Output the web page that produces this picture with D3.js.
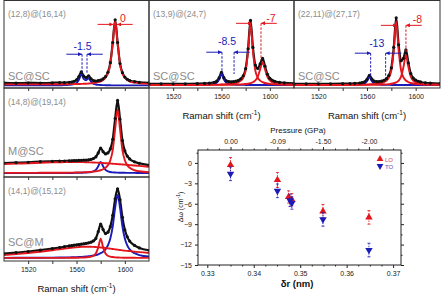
<!DOCTYPE html>
<html>
<head>
<meta charset="utf-8">
<script src="https://cdn.jsdelivr.net/npm/d3@7"></script>
<style>
  body { margin: 0; background: #fff; }
  svg { display: block; font-family: "Liberation Sans", Arial, sans-serif; }
</style>
</head>
<body>
<div id="container"></div>
<script>
// Raman shift grid (cm-1), shared by every spectrum below
const shift = [1500,1510,1520,1530,1540,1546,1550,1554,1556,1558,1560,1562,1564,1566,1568,1570,1572,1574,
               1576,1578,1580,1582,1584,1586,1588,1590,1592,1594,1596,1598,1600,1602,1604,1608,1612,1620];

// intensities in % of panel height
// (12,8)@(16,14)  SC@SC
const dataA = [5.8,5.5,5.9,5.7,5.9,6.2,6.1,6.5,6.8,7.6,9.2,13,18.5,13.5,12,14,10.5,8.5,8,8.5,9,10.5,13,18,29,52,78,52,28,17.5,12.5,10,8.5,7.2,6.5,6];
const redA  = [4.1,4.1,4.1,4.1,4.2,4.3,4.3,4.4,4.4,4.5,4.5,4.6,4.7,4.8,4.9,5.1,5.3,5.6,6.1,6.7,7.6,9.1,11.7,16.7,27.4,51.7,77,51.7,27.4,16.7,11.7,9.1,7.6,6.1,5.3,4.7];
const blueA = [3,3,3,3,3.1,3.2,3.3,3.6,3.8,4.4,5.7,9.4,15.7,10.4,8.9,11.2,7.2,4.9,4,3.6,3.4,3.3,3.2,3.1,3.1,3,3,3,3,3,3,3,3,3,3,3];

// (14,8)@(19,14)  M@SC
const dataB = [15.6,16.1,16.6,17.2,17.6,17.9,18,18.2,18.2,18.4,18.5,18.6,18.7,18.9,19,19.3,19.8,20.8,22.6,27,32.5,28.5,25.9,27,31.5,42.3,65.7,86,65.1,41,29.4,23.5,20.3,17.1,15.4,13.4];
const redB  = [4.6,4.6,4.6,4.7,4.7,4.8,4.8,4.9,4.9,5,5.05,5.1,5.2,5.3,5.4,5.6,5.8,6.1,6.4,6.9,7.6,8.7,10.4,13.3,18.8,30.2,54,76,54,30.2,18.8,13.3,10.4,7.6,6.4,5.4];
const broadB = [14.5,15,15.5,16,16.4,16.6,16.7,16.8,16.8,16.8,16.8,16.8,16.7,16.7,16.6,16.5,16.4,16.3,16.2,16,15.9,15.7,15.5,15.3,15.1,14.9,14.7,14.5,14.3,14.1,13.9,13.6,13.4,13,12.5,11.5];
const blueB = [4.5,4.5,4.5,4.5,4.5,4.5,4.5,4.5,4.5,4.6,4.7,4.7,4.8,4.9,5,5.2,5.6,6.35,8,12.1,17,12.1,8,6.35,5.6,5.2,5,4.9,4.8,4.7,4.7,4.6,4.6,4.6,4.5,4.5];

// (14,1)@(15,12)  SC@M
const dataC = [8.7,10,11.3,12.9,14.8,16.1,17,18,18.3,18.8,19.2,19.6,20,20.5,21,21.6,22.4,23.9,26.9,34.9,44,37.4,32.6,34.3,40.9,54.4,74,86,73,52,37.2,28.8,23.7,18.5,15.6,12.8];
const redC  = [3.7,3.7,3.7,3.7,3.7,3.7,3.7,3.8,3.8,3.85,3.9,3.95,4,4.2,4.35,4.7,5.2,6.3,8.9,16.2,26.6,16.2,8.9,6.3,5.2,4.7,4.35,4.2,4,3.95,3.9,3.85,3.8,3.8,3.7,3.7];
const broadC = [7,8.2,9.5,11,12.8,14,14.8,15.5,15.8,16.1,16.4,16.6,16.8,16.9,17,17,16.9,16.8,16.6,16.4,16.1,15.8,15.5,15.1,14.7,14.3,13.9,13.5,13.1,12.7,12.3,12,11.7,11.1,10.5,9.5];
const blueC = [3.7,3.8,3.8,3.9,4,4.1,4.2,4.35,4.4,4.5,4.6,4.75,4.9,5.1,5.3,5.6,6,6.5,7.1,8,9.3,11.1,13.9,18.6,26.7,41.1,63.6,78.6,63.6,41.1,26.7,18.6,13.9,9.3,7.1,5.3];

// (13,9)@(24,7)  SC@SC
const dataD = [4.65,4.75,4.75,4.8,5,5.2,5.55,6.4,7.75,11.55,17.95,11.8,8.25,7.2,7,7.2,7.75,8.7,10.5,14,22.25,44.8,77.25,46.4,26.2,22.35,27.6,33.85,24.9,15.7,11.1,8.85,7.6,6.35,5.75,5.25];
const redD1 = [3.45,3.5,3.5,3.5,3.6,3.65,3.7,3.8,3.85,3.9,4,4.1,4.25,4.45,4.7,5.1,5.7,6.65,8.4,11.75,19.8,42,73.9,42,19.8,11.75,8.4,6.65,5.7,5.1,4.7,4.45,4.25,4,3.85,3.7];
const redD2 = [3.4,3.45,3.45,3.5,3.5,3.5,3.55,3.55,3.6,3.6,3.65,3.65,3.7,3.7,3.75,3.8,3.9,4,4.1,4.3,4.55,4.9,5.55,6.6,8.6,12.8,21.4,29.4,21.4,12.8,8.6,6.6,5.55,4.55,4.1,3.75];
const blueD = [3.4,3.4,3.4,3.4,3.5,3.65,3.9,4.65,5.9,9.65,15.9,9.65,5.9,4.65,4.15,3.9,3.75,3.65,3.6,3.55,3.5,3.45,3.4,3.4,3.4,3.4,3.4,3.4,3.4,3.4,3.4,3.4,3.4,3.4,3.4,3.4];

// (22,11)@(27,17)  SC@SC
const dataE = [4.65,4.75,4.75,4.75,4.9,5.1,5.3,5.7,6.15,7.1,9.9,14.55,10.25,7.8,7.2,7.35,7.8,8.85,10.7,14.4,23,46.5,80.2,49.4,31.05,33.9,43.7,28.65,16.5,11.35,8.95,7.7,6.9,6,5.55,5.15];
const redE1 = [3.45,3.5,3.5,3.5,3.6,3.65,3.7,3.8,3.85,3.9,4,4.1,4.3,4.5,4.75,5.15,5.75,6.75,8.5,12,20.3,43.2,76,43.2,20.3,12,8.5,6.75,5.75,5.15,4.75,4.5,4.3,4,3.85,3.7];
const redE2 = [3.4,3.45,3.45,3.45,3.5,3.5,3.55,3.55,3.6,3.6,3.6,3.65,3.65,3.7,3.75,3.85,3.9,4.05,4.2,4.45,4.8,5.4,6.4,8.4,12.95,24.1,37.4,24.1,12.95,8.4,6.4,5.4,4.8,4.2,3.9,3.65];
const blueE = [3.4,3.4,3.4,3.4,3.4,3.55,3.65,3.95,4.3,5.2,7.9,12.4,7.9,5.2,4.3,3.95,3.75,3.65,3.6,3.55,3.5,3.5,3.4,3.4,3.4,3.4,3.4,3.4,3.4,3.4,3.4,3.4,3.4,3.4,3.4,3.4];

// shift markers: [component, peak, reference, arrow level, peak line end, ref line end, label x, label level, label]
const marksA = [["red", 1590.5, 1593.5, 72.7, 72.7, 72.7, 1598.5, 76, "0"],
                ["blue", 1564.6, 1568.7, 38.6, 17, 17, 1565, 43, "-1.5"]];
const marksD = [["red", 1585, 1592.7, 73.9, 73.9, 31.8, 1601, 76, "-7"],
                ["blue", 1560.4, 1570.4, 40.9, 16, 16, 1564.6, 49, "-8.5"]];
const marksE = [["red", 1584.4, 1592, 71.6, 71.6, 40, 1601.4, 74.5, "-8"],
                ["blue", 1563, 1575.3, 39.8, 12.5, 12.5, 1568, 47, "-13"]];

// phonon shift vs. inter-wall distance
const deltaRLO = [0.335, 0.3451, 0.3475, 0.3482, 0.3549, 0.3648];
const shiftLO  = [-0.3, -2.5, -5.0, -5.4, -7.1, -8.0];
const errLO    = [1.1, 1.1, 0.9, 0.9, 1.0, 1.0];
const deltaRTO = [0.335, 0.3451, 0.3478, 0.3482, 0.3549, 0.3648];
const shiftTO  = [-1.6, -4.1, -5.5, -5.9, -8.3, -12.8];
const errTO    = [1.0, 1.0, 0.9, 0.9, 1.0, 1.0];
const pressureAt = [0.335, 0.3451, 0.3549, 0.3648];
const pressureLabels = ["0.00", "-0.09", "-1.50", "-2.00"];

const W = 445, H = 298;
const color = {red: "#e3161d", blue: "#1b1bb8"};
const GREY = "#8c8c8c";

const svg = d3.select("#container").append("svg").attr("width", W).attr("height", H);
svg.append("rect").attr("width", W).attr("height", H).attr("fill", "#fff");
const defs = svg.append("defs");
for (const c of ["red", "blue"]) {
    defs.append("marker").attr("id", "arrow-" + c)
        .attr("viewBox", "0 0 6 6").attr("refX", 6).attr("refY", 3)
        .attr("markerWidth", 4).attr("markerHeight", 4).attr("orient", "auto")
        .append("path").attr("d", "M0,0L6,3L0,6Z").attr("fill", color[c]);
}

function drawSpectrum(id, box, spec) {
    const x = d3.scaleLinear().domain([1500, 1620]).range([box.x0, box.x1]);
    const y = d3.scaleLinear().domain([0, 100]).range([box.y1, box.y0]);
    defs.append("clipPath").attr("id", "clip" + id).append("rect")
        .attr("x", box.x0).attr("y", box.y0)
        .attr("width", box.x1 - box.x0).attr("height", box.y1 - box.y0);
    const g = svg.append("g").attr("clip-path", `url(#clip${id})`);
    const line = d3.line().x((d, i) => x(shift[i])).y(d => y(d)).curve(d3.curveMonotoneX);

    g.append("path").datum(spec.data).attr("d", line)
        .attr("fill", "none").attr("stroke", "#111").attr("stroke-width", 2.2);
    for (const s of spec.blue) {
        g.append("path").datum(s).attr("d", line)
            .attr("fill", "none").attr("stroke", color.blue).attr("stroke-width", 1.9);
    }
    for (const s of spec.red) {
        g.append("path").datum(s).attr("d", line)
            .attr("fill", "none").attr("stroke", color.red).attr("stroke-width", 1.9);
    }
    g.selectAll("circle").data(spec.data).join("circle")
        .attr("cx", (d, i) => x(shift[i])).attr("cy", d => y(d))
        .attr("r", 1.6).attr("fill", "#111");

    // shift annotations
    for (const m of spec.marks || []) {
        const [comp, peak, ref, level, peakEnd, refEnd, lx, ly, label] = m;
        const c = color[comp];
        g.append("line").attr("x1", x(peak)).attr("x2", x(peak)).attr("y1", y(level)).attr("y2", y(peakEnd))
            .attr("stroke", c).attr("stroke-width", 1).attr("stroke-dasharray", "2.5,1.5");
        g.append("line").attr("x1", x(ref)).attr("x2", x(ref)).attr("y1", y(level)).attr("y2", y(refEnd))
            .attr("stroke", c).attr("stroke-width", 1).attr("stroke-dasharray", "2.5,1.5");
        g.append("line").attr("x1", x(peak - 13)).attr("x2", x(peak)).attr("y1", y(level)).attr("y2", y(level))
            .attr("stroke", c).attr("stroke-width", 1).attr("marker-end", `url(#arrow-${comp})`);
        g.append("line").attr("x1", x(ref + 13)).attr("x2", x(ref)).attr("y1", y(level)).attr("y2", y(level))
            .attr("stroke", c).attr("stroke-width", 1).attr("marker-end", `url(#arrow-${comp})`);
        g.append("text").attr("x", x(lx)).attr("y", y(ly)).attr("text-anchor", "middle")
            .attr("font-size", 10.5).attr("fill", c).text(label);
    }

    // labels
    svg.append("text").attr("x", box.x0 + 4).attr("y", box.y0 + 16.5)
        .attr("font-size", 8.5).attr("fill", GREY).text(spec.name);
    svg.append("text").attr("x", box.x0 + 4).attr("y", spec.kindY)
        .attr("font-size", 11).attr("fill", GREY).text(spec.kind);

    // frame and axis
    svg.append("rect").attr("x", box.x0).attr("y", box.y0)
        .attr("width", box.x1 - box.x0).attr("height", box.y1 - box.y0)
        .attr("fill", "none").attr("stroke", "#333").attr("stroke-width", 1);
    const ax = svg.append("g").attr("transform", `translate(0,${box.y1})`)
        .call(d3.axisBottom(x).tickValues([1520, 1540, 1560, 1580, 1600]).tickSize(3).tickPadding(3)
            .tickFormat(d => spec.labels && d % 40 === 0 ? d : ""));
    ax.select(".domain").remove();
    ax.selectAll("line").attr("stroke", "#333");
    ax.selectAll("text").attr("font-size", 7).attr("fill", "#222")
        .attr("font-family", "Liberation Sans, Arial, sans-serif");
    if (spec.labels) {
        const t = svg.append("text").attr("x", (box.x0 + box.x1) / 2).attr("y", box.y1 + 31)
            .attr("text-anchor", "middle").attr("font-size", 9.5).attr("fill", "#111");
        t.append("tspan").text("Raman shift (cm");
        t.append("tspan").attr("font-size", 6.5).attr("dy", -4).text("-1");
        t.append("tspan").attr("dy", 4).text(")");
    }
}

drawSpectrum("A", {x0: 4, x1: 149, y0: 0.5, y1: 88},
    {data: dataA, red: [redA], blue: [blueA], marks: marksA, name: "(12,8)@(16,14)", kind: "SC@SC", kindY: 80});
drawSpectrum("B", {x0: 4, x1: 149, y0: 88, y1: 177},
    {data: dataB, red: [broadB, redB], blue: [blueB], name: "(14,8)@(19,14)", kind: "M@SC", kindY: 155});
drawSpectrum("C", {x0: 4, x1: 149, y0: 177, y1: 261},
    {data: dataC, red: [broadC, redC], blue: [blueC], name: "(14,1)@(15,12)", kind: "SC@M", kindY: 246, labels: true});
drawSpectrum("D", {x0: 149, x1: 294, y0: 0.5, y1: 88},
    {data: dataD, red: [redD1, redD2], blue: [blueD], marks: marksD, name: "(13,9)@(24,7)", kind: "SC@SC", kindY: 80, labels: true});
drawSpectrum("E", {x0: 294, x1: 440, y0: 0.5, y1: 88},
    {data: dataE, red: [redE1, redE2], blue: [blueE], marks: marksE, name: "(22,11)@(27,17)", kind: "SC@SC", kindY: 80, labels: true});

// ---- scatter: frequency shift vs delta r ----
const sx = d3.scaleLinear().domain([0.328, 0.3717]).range([198, 401]);
const sy = d3.scaleLinear().domain([-15, 1.9]).range([265, 150]);
const sg = svg.append("g");

function styleAxis(a) {
    a.select(".domain").remove();
    a.selectAll("line").attr("stroke", "#222");
    a.selectAll("text").attr("font-size", 7).attr("fill", "#222")
        .attr("font-family", "Liberation Sans, Arial, sans-serif");
}
styleAxis(sg.append("g").attr("transform", "translate(0,265)")
    .call(d3.axisBottom(sx).tickValues([0.33, 0.34, 0.35, 0.36, 0.37]).tickSize(3).tickPadding(3).tickFormat(d3.format(".2f"))));
styleAxis(sg.append("g").attr("transform", "translate(0,265)")
    .call(d3.axisBottom(sx).tickValues([0.3325, 0.335, 0.3375, 0.3425, 0.345, 0.3475, 0.3525, 0.355, 0.3575, 0.3625, 0.365, 0.3675]).tickSize(1.5).tickFormat("")));
styleAxis(sg.append("g").attr("transform", "translate(0,150)")
    .call(d3.axisTop(sx).tickValues(pressureAt).tickSize(3).tickPadding(3).tickFormat((d, i) => pressureLabels[i])));
styleAxis(sg.append("g").attr("transform", "translate(0,150)")
    .call(d3.axisTop(sx).tickValues([0.33, 0.34, 0.35, 0.36, 0.37, 0.3325, 0.3375, 0.3425, 0.3475, 0.3525, 0.3575, 0.3625, 0.3675]).tickSize(1.5).tickFormat("")));
styleAxis(sg.append("g").attr("transform", "translate(198,0)")
    .call(d3.axisLeft(sy).tickValues([0, -3, -6, -9, -12, -15]).tickSize(3).tickPadding(3)));
styleAxis(sg.append("g").attr("transform", "translate(198,0)")
    .call(d3.axisLeft(sy).tickValues([1.5, -1.5, -4.5, -7.5, -10.5, -13.5]).tickSize(1.5).tickFormat("")));
styleAxis(sg.append("g").attr("transform", "translate(401,0)")
    .call(d3.axisRight(sy).tickValues([0, -3, -6, -9, -12, -15]).tickSize(3).tickFormat("")));
styleAxis(sg.append("g").attr("transform", "translate(401,0)")
    .call(d3.axisRight(sy).tickValues([1.5, -1.5, -4.5, -7.5, -10.5, -13.5]).tickSize(1.5).tickFormat("")));
sg.append("rect").attr("x", 198).attr("y", 150).attr("width", 203).attr("height", 115)
    .attr("fill", "none").attr("stroke", "#222").attr("stroke-width", 1);

function drawSeries(rs, vs, es, c, rot) {
    const g = sg.append("g");
    rs.forEach((r, i) => {
        const cx = sx(r);
        g.append("line").attr("x1", cx).attr("x2", cx).attr("y1", sy(vs[i] + es[i])).attr("y2", sy(vs[i] - es[i]))
            .attr("stroke", c).attr("stroke-width", 0.8).attr("stroke-dasharray", "1.5,1");
        for (const e of [es[i], -es[i]]) {
            g.append("line").attr("x1", cx - 1.5).attr("x2", cx + 1.5).attr("y1", sy(vs[i] + e)).attr("y2", sy(vs[i] + e))
                .attr("stroke", c).attr("stroke-width", 0.8);
        }
        g.append("path").attr("d", d3.symbol(d3.symbolTriangle, 24)())
            .attr("transform", `translate(${cx},${sy(vs[i])}) rotate(${rot})`).attr("fill", c);
    });
}
drawSeries(deltaRLO, shiftLO, errLO, color.red, 0);
drawSeries(deltaRTO, shiftTO, errTO, color.blue, 180);

// legend
sg.append("path").attr("d", d3.symbol(d3.symbolTriangle, 20)()).attr("transform", "translate(380,159)").attr("fill", color.red);
sg.append("text").attr("x", 385).attr("y", 161.5).attr("font-size", 6).attr("fill", "#d04858").text("LO");
sg.append("path").attr("d", d3.symbol(d3.symbolTriangle, 20)()).attr("transform", "translate(380,166) rotate(180)").attr("fill", color.blue);
sg.append("text").attr("x", 385).attr("y", 168.5).attr("font-size", 6).attr("fill", "#5050b8").text("TO");

// axis titles
sg.append("text").attr("x", 298).attr("y", 133).attr("text-anchor", "middle")
    .attr("font-size", 8).attr("fill", "#111").text("Pressure (GPa)");
sg.append("text").attr("x", 297).attr("y", 287).attr("text-anchor", "middle")
    .attr("font-size", 9.5).attr("font-weight", "bold").attr("fill", "#111").text("δr (nm)");
const yl = sg.append("text").attr("transform", "translate(183,207) rotate(-90)").attr("text-anchor", "middle")
    .attr("font-size", 7).attr("fill", "#111");
yl.append("tspan").text("Δω (cm");
yl.append("tspan").attr("font-size", 5).attr("dy", -3).text("-1");
yl.append("tspan").attr("dy", 3).text(")");
</script>
</body>
</html>
